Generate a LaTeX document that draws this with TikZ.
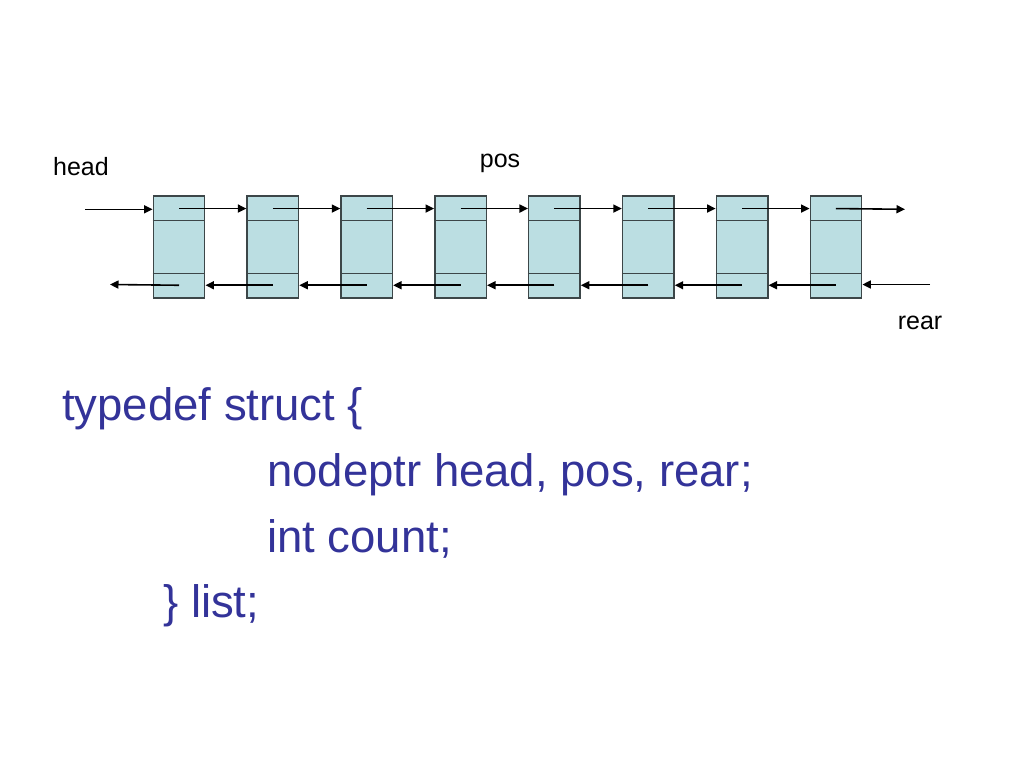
\documentclass[tikz,border=0pt]{standalone}
\usepackage{fontspec}
\setmainfont{Liberation Sans}
\usetikzlibrary{arrows.meta,calc}
\definecolor{cellfill}{RGB}{187,222,226}
\definecolor{celledge}{RGB}{60,70,72}
\definecolor{codeblue}{RGB}{51,51,153}
\tikzset{
  cell/.style={draw=celledge, line width=1.5pt, fill=cellfill, rectangle, minimum width=51.4pt, minimum height=102pt, inner sep=0pt},
  arr/.style={draw=black, line width=1.6pt, -{Triangle[length=8.5pt,width=8pt]}},
  lbl/.style={font=\fontsize{25}{30}\selectfont, inner sep=0pt, anchor=base},
  code/.style={font=\fontsize{45.5}{52}\selectfont, text=codeblue, inner sep=0pt, anchor=base west}
}
\begin{document}
\begin{tikzpicture}[x=1pt,y=-1pt]
\useasboundingbox[fill=white] (0,0) rectangle (1024,768);
\foreach \i in {1,...,8} {
  \node[cell] (b\i) at ({179+(\i-1)*93.85},247) {};
  \draw[celledge, line width=1.5pt] ($(b\i.north west)+(0,25.3)$) -- ($(b\i.north east)+(0,25.3)$);
  \draw[celledge, line width=1.5pt] ($(b\i.south west)+(0,-25.3)$) -- ($(b\i.south east)+(0,-25.3)$);
  \coordinate (f\i) at ($(b\i.north)+(0,13.3)$);
  \coordinate (r\i) at ($(b\i.south)+(0,-13.5)$);
}
\foreach \i [evaluate=\i as \j using int(\i+1)] in {1,...,7} {
  \draw[arr] (f\i) -- (f\i -| b\j.west);
}
\foreach \i [evaluate=\i as \j using int(\i-1)] in {2,...,8} {
  \draw[arr] (r\i) -- (r\i -| b\j.east);
}
\coordinate (hs) at (85,209.3);
\draw[arr] (hs) -- (hs -| b1.west);
\coordinate (fe) at (905,209.3);
\draw[arr] (f8) -- (fe);
\coordinate (be) at (110,284.5);
\draw[arr] (r1) -- (be);
\coordinate (rs) at (930,284.5);
\draw[arr] (rs) -- (rs -| b8.east);
\node[lbl] (head) at (81,175) {head};
\node[lbl] (pos) at (500,167) {pos};
\node[lbl] (rear) at (920,329) {rear};
\node[code] (l1) at (62,420) {typedef struct \{};
\node[code] (l2) at (267,486.5) {nodeptr head, pos, rear;};
\node[code] (l3) at (267,552) {int count;};
\node[code] (l4) at (163,617) {\} list;};
\end{tikzpicture}
\end{document}
